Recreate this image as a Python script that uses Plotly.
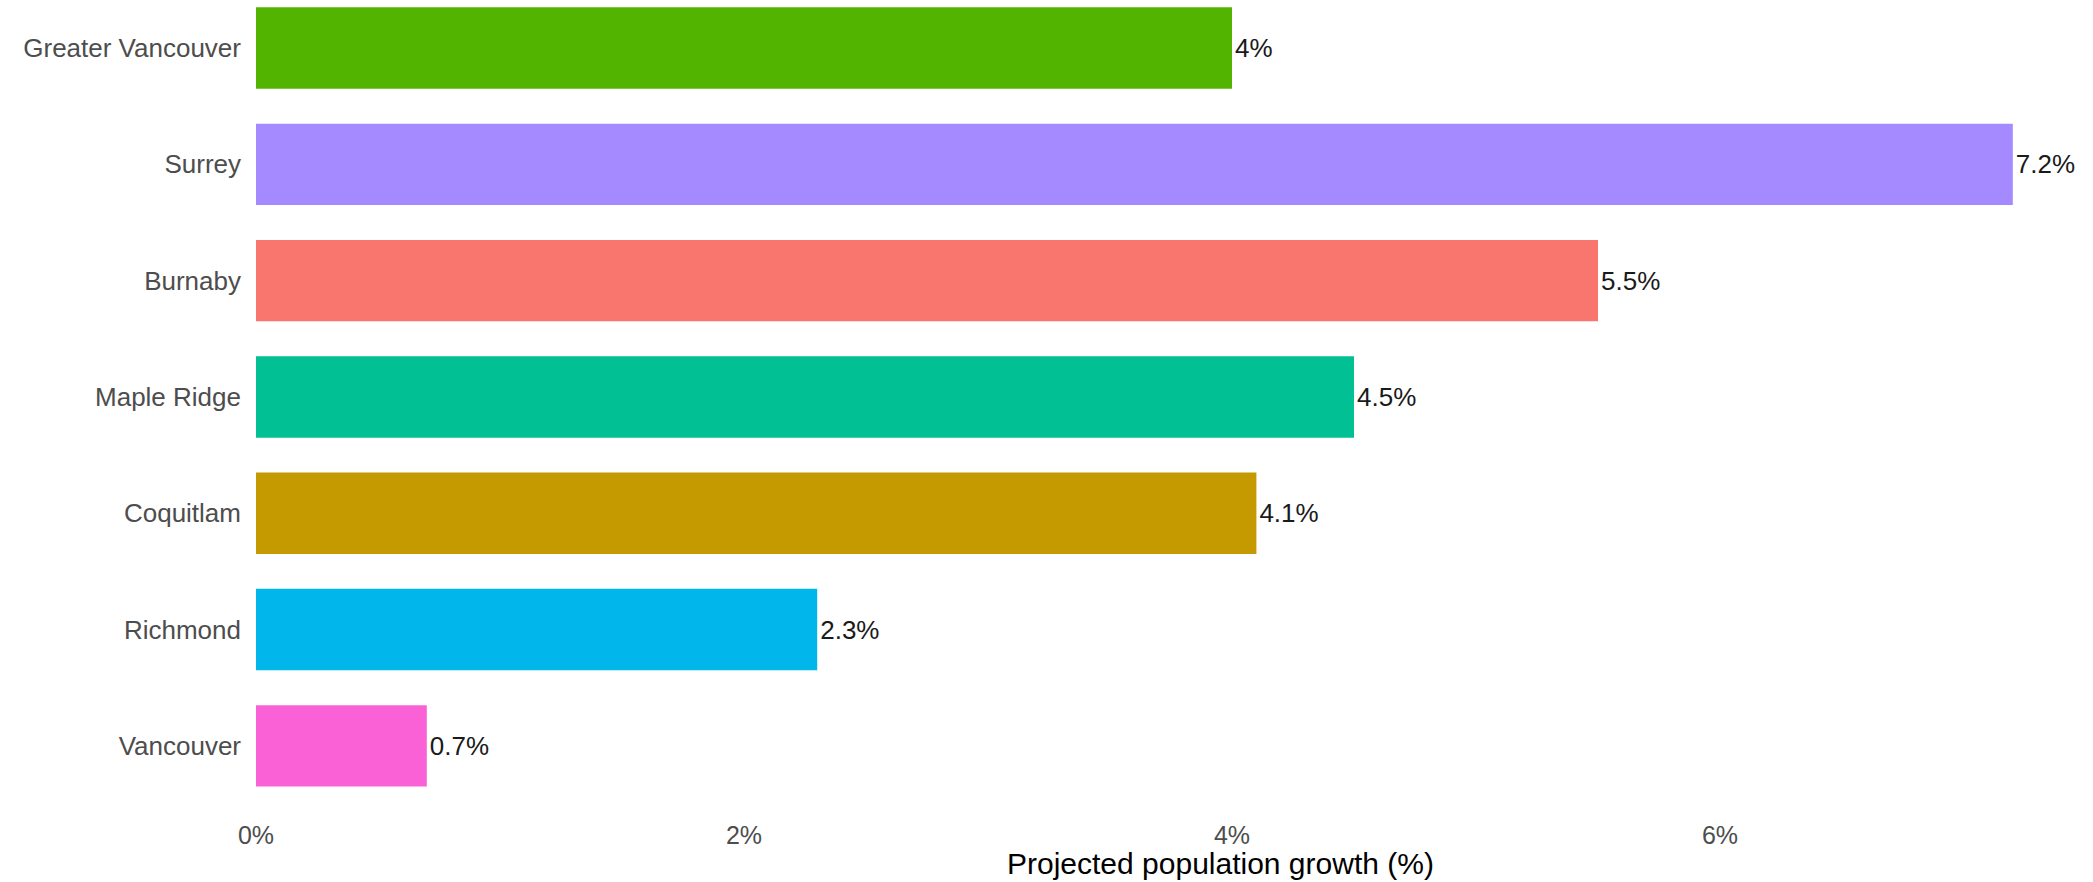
import plotly.graph_objects as go

# Projected population growth by municipality (bottom to top)
regions = ["Vancouver", "Richmond", "Coquitlam", "Maple Ridge", "Burnaby", "Surrey", "Greater Vancouver"]
growth_pct = [0.7, 2.3, 4.1, 4.5, 5.5, 7.2, 4.0]
value_labels = ["0.7%", "2.3%", "4.1%", "4.5%", "5.5%", "7.2%", "4%"]
bar_colors = ["#FB61D7", "#00B6EB", "#C49A00", "#00C094", "#F8766D", "#A58AFF", "#53B400"]

tick_values = [0, 2, 4, 6]
tick_labels = ["0%", "2%", "4%", "6%"]

FONT = "Liberation Sans, Arial, sans-serif"

W, H = 2093, 882
M_L, M_R, M_T, M_B = 248, 12, 0, 64
plot_w = W - M_L - M_R
plot_h = H - M_T - M_B

fig = go.Figure(
    go.Bar(
        x=growth_pct,
        y=regions,
        orientation="h",
        width=0.7,
        marker=dict(color=bar_colors, line=dict(width=0)),
        text=value_labels,
        textposition="outside",
        textfont=dict(family=FONT, size=26, color="#1a1a1a"),
        cliponaxis=False,
        hoverinfo="skip",
    )
)

fig.update_layout(
    width=W,
    height=H,
    margin=dict(l=M_L, r=M_R, t=M_T, b=M_B),
    paper_bgcolor="white",
    plot_bgcolor="white",
    showlegend=False,
    font=dict(family=FONT),
    bargap=0.3,
)

fig.update_xaxes(
    range=[-8 / 244, (W - M_R - 256) / 244],
    tickvals=tick_values,
    ticktext=tick_labels,
    showgrid=False,
    zeroline=False,
    showline=False,
    ticks="",
    tickfont=dict(family=FONT, size=25, color="#4d4d4d"),
)

fig.update_yaxes(
    type="category",
    categoryorder="array",
    categoryarray=regions,
    range=[-0.62, 6.413],
    showgrid=False,
    zeroline=False,
    showline=False,
    ticks="",
    tickfont=dict(family=FONT, size=26, color="#4d4d4d"),
    ticklabelstandoff=6,
)

# x-axis title, centred under the full panel width
fig.add_annotation(
    text="Projected population growth (%)",
    xref="paper",
    yref="paper",
    x=(1220 - M_L) / plot_w,
    y=-(881 - plot_h) / plot_h,
    xanchor="center",
    yanchor="bottom",
    borderpad=0,
    showarrow=False,
    font=dict(family=FONT, size=30, color="#000000"),
)

fig.write_html("out.html")
